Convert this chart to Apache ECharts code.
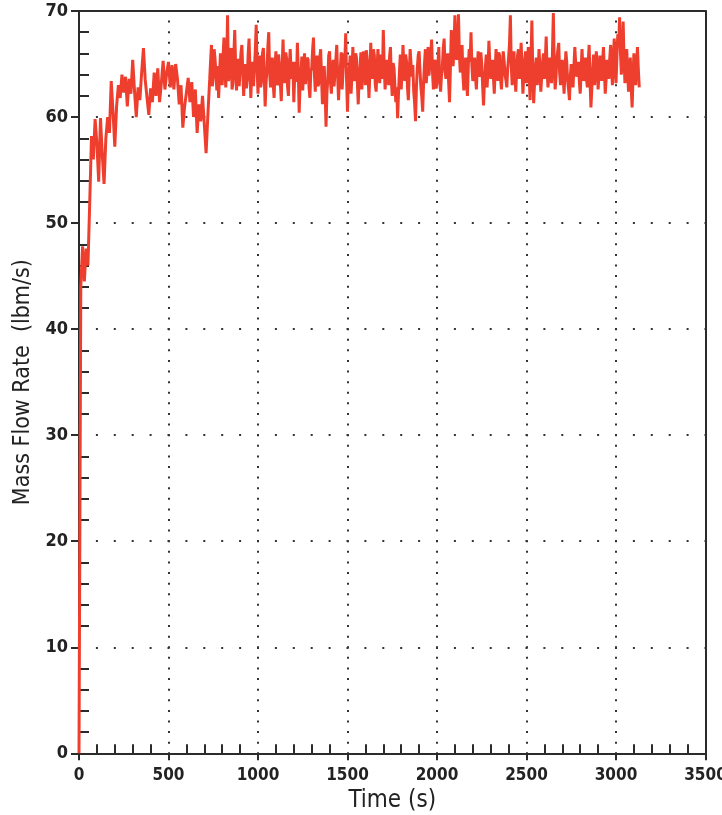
<!DOCTYPE html>
<html>
<head>
<meta charset="utf-8">
<script src="https://cdn.jsdelivr.net/npm/echarts@6/dist/echarts.min.js"></script>
<style>
html,body{margin:0;padding:0;background:#fff;overflow:hidden;width:722px;height:815px;}
#chart{width:722px;height:815px;position:absolute;left:0;top:0;}
</style>
</head>
<body>
<div id="chart"></div>
<script>
// Axis ticks
const xTicks = [0, 500, 1000, 1500, 2000, 2500, 3000, 3500];
const yTicks = [0, 10, 20, 30, 40, 50, 60, 70];
const xTitle = 'Time (s)';
const yTitle = 'Mass Flow Rate  (lbm/s)';

// Start-up: one reading every 10 s, t = 0 ... 720 s (lbm/s)
const startupT0 = 0, startupStep = 10;
const flowStartup = [
  0, 44, 47.8, 44.5, 47.6, 46, 52, 58.2, 56, 59.8,
  57.5, 53.9, 59.9, 56.5, 53.7, 58, 60, 58.5, 63.4, 60.5,
  57.2, 61, 63, 61.8, 64, 62.3, 63.8, 61, 63.6, 62.2,
  65.4, 62.5, 60, 62.8, 61.6, 64.2, 66.5, 63.5, 61.8, 60.2,
  62.7, 61.4, 64.2, 62, 64.6, 61.4, 63.2, 65.3, 62.6, 64.2,
  65.2, 62.8, 64.9, 62.6, 65, 63.6, 61.2, 63, 59, 61,
  62.3, 63.7, 61.4, 63.3, 60, 62.6, 58.5, 61.2, 59.6, 62,
  59.3, 56.6, 60.2
];

// Plateau: one reading every 5 s
const plateauStep = 5;
// t = 730 ... 1500 s
const plateau1T0 = 730;
const flowPlateau1 = [
  63.5, 65.2, 66.8, 62.9, 63.8, 66.4, 65.5, 64.1, 62.5, 64.8, 61.8, 63.9, 66, 64.6, 63, 65.8, 67.5, 64.3, 62.8, 65.1,
  69.6, 63.4, 64, 66.2, 66.5, 62.6, 63.2, 65.7, 68.2, 64.9, 62.5, 64.4, 65.5, 62.9, 63, 66.1, 66.8, 64.2, 62, 63.8,
  65, 62.7, 63.5, 65.9, 67.4, 64.5, 61.8, 64.2, 65.2, 62.9, 63, 66.3, 68.7, 64.6, 62.2, 65.3, 65.8, 62.8, 63.4, 66,
  66.5, 63.9, 61, 63.2, 64.5, 66.6, 68, 64.2, 62.8, 64.9, 65.6, 63.1, 61.8, 64.6, 66.2, 63.4, 63, 65.9, 64.8, 63.2,
  61.5, 64.8, 67.3, 64, 63.2, 66.1, 65.5, 62.9, 62, 64.7, 66.4, 64.1, 63.6, 65.2, 61.4, 63.8, 65.2, 63.3, 67, 64.4,
  60.4, 63.1, 64.2, 65.7, 62.5, 64.6, 66, 63.1, 63, 65.6, 65.4, 62.8, 61.8, 64.3, 64.6, 66.3, 67.5, 64.1, 62.4, 64.9,
  65.8, 62.9, 63.2, 65.5, 66.4, 63.7, 61.2, 63.6, 64.8, 62.4, 59.1, 62.2, 63.6, 65.8, 66.2, 63.3, 62.2, 64.5, 65.4, 62.9,
  63, 65.4, 66.8, 63.9, 61.6, 63.7, 64.6, 66.1, 62.6, 64.2, 66, 65.1, 67.9, 63.4, 60.5
];
// t = 1505 ... 2300 s
const plateau2T0 = 1505;
const flowPlateau2 = [
  63.9, 64.4, 65.8, 62.2, 64.1, 66.6, 64.2, 63.4, 66, 65.6, 63.3, 61.2, 63.7, 64.8, 66.1, 62.6, 64.3, 66.2, 64.4, 63,
  66.3, 65.4, 63.9, 61.8, 64.2, 67, 64.1, 63.6, 66.4, 65.8, 63.1, 62.4, 64.5, 66.4, 64.8, 63.2, 65.9, 64.8, 63.6, 68.2,
  64.9, 62.6, 63.8, 65.4, 64.2, 63, 65.7, 66.6, 63.5, 62, 65.1, 64.6, 62.9, 61.4, 62.8, 59.9, 62.3, 64.2, 65.9, 62.6,
  64.3, 66.8, 64.6, 63.4, 65.9, 65.2, 62.8, 61.6, 64.1, 66.4, 65, 63.8, 64.9, 62.4, 61.3, 59.6, 62.8, 64.6, 65.8, 66.2,
  64.4, 62.8, 61.9, 60.5, 63.2, 65, 66.4, 63.2, 64.4, 66.6, 63.9, 64, 65.9, 67.3, 64.2, 62.6, 64.9, 65.4, 62.7, 63.2,
  64.8, 66.6, 63.6, 62.4, 63.9, 64.8, 66.5, 67.4, 64.3, 63.6, 65.4, 66, 63.3, 61.4, 64.7, 68.2, 66.1, 64.8, 66.4, 69.6,
  65.8, 65.4, 67.3, 69.7, 65.9, 64.2, 65.1, 66.8, 63.9, 62.5, 64.6, 65.6, 63.4, 62, 64.9, 66.4, 65.2, 68, 64.8, 63.4,
  64.2, 65.6, 63.8, 62.6, 64.7, 66.2, 64.5, 63.8, 66.1, 65, 62.9, 61.1, 63.4, 64.6, 65.9, 62.8, 64.6, 67.2, 65.1, 63.6
];
// t = 2305 ... 3130 s
const plateau3T0 = 2305;
const flowPlateau3 = [
  64.2, 65.4, 63.8, 62.2, 64.5, 66.4, 64.9, 63.4, 66.1, 65.8, 63.7, 62.6, 64.4, 66.2, 65.3, 64, 63.5, 62.8, 64.6, 65.6,
  66.9, 69.6, 64.8, 63, 64.6, 66.2, 64.1, 62.4, 64.3, 65.8, 66.4, 63.6, 64.9, 67, 64.6, 62.2, 63.9, 65.4, 66.2, 63.2,
  64.7, 66.6, 63.9, 61.6, 65.2, 69.1, 64.4, 61.3, 63.2, 64.8, 65.6, 63, 64.1, 66.4, 64.5, 62.4, 63.8, 65.2, 66, 63.6,
  65.3, 67.6, 64.4, 62.8, 63.9, 65.6, 64.8, 63.2, 66.1, 69.8, 64.9, 62.6, 63.8, 65.6, 66.3, 67, 64.2, 63, 64.1, 65.4,
  63.8, 62.2, 64.3, 66.2, 65.1, 63.4, 62.6, 61.6, 63.9, 65, 64.2, 62.8, 64.8, 66.6, 65, 63.8, 64.3, 65.2, 63.4, 62.2,
  64.2, 66.4, 64.8, 63.4, 64.1, 65.6, 63.6, 62.8, 65.3, 66.8, 63.4, 60.9, 62.7, 64.6, 65.9, 63, 64.4, 66.2, 64.7, 62.6,
  64.1, 65.8, 64.6, 63.4, 65.2, 66.6, 64.3, 62.2, 63.6, 65.4, 64.7, 63.6, 65.5, 66.8, 64.6, 63, 65.3, 67.4, 64.9, 63.2,
  65.6, 67.8, 66.7, 69.4, 66.1, 64, 65.8, 69, 65.4, 63.2, 64.6, 66.4, 64.1, 62.4, 64.2, 65.6, 62.8, 60.9, 63.7, 66,
  64.3, 63, 65.1, 66.6, 64.4, 62.8
];

function toPoints(t0, step, values) {
  return values.map((v, i) => [t0 + i * step, v]);
}
const seriesData = [].concat(
  toPoints(startupT0, startupStep, flowStartup),
  toPoints(plateau1T0, plateauStep, flowPlateau1),
  toPoints(plateau2T0, plateauStep, flowPlateau2),
  toPoints(plateau3T0, plateauStep, flowPlateau3)
);

const FONT = '"Liberation Sans Narrow","DejaVu Sans Condensed","Liberation Sans",sans-serif';
const AXIS = '#2b2b2b';
const DOT = '#333';

const W = 722, H = 815;
const gridLeft = 79, gridRight = 16.5, gridTop = 11, gridBottom = 61.7;
const gridW = W - gridLeft - gridRight;
const gridH = H - gridTop - gridBottom;
const xMinorPx = gridW / 35;   // 100 s spacing of horizontal dots
const yUnitPx = gridH / 70;    // 1 lbm/s spacing of vertical dots

const xRange = {type: 'value', min: xTicks[0], max: xTicks[xTicks.length - 1], interval: xTicks[1] - xTicks[0]};
const yRange = {type: 'value', min: yTicks[0], max: yTicks[yTicks.length - 1], interval: yTicks[1] - yTicks[0]};
const frameOnly = {
  axisLine: {show: true, onZero: false, lineStyle: {color: AXIS, width: 2}},
  axisTick: {show: false}, axisLabel: {show: false}, splitLine: {show: false}
};

const chart = echarts.init(document.getElementById('chart'), null, {renderer: 'canvas', width: W, height: H});
chart.setOption({
  animation: false,
  backgroundColor: '#fff',
  grid: {
    left: gridLeft, right: gridRight, top: gridTop, bottom: gridBottom,
    containLabel: false, outerBoundsMode: 'none', show: false
  },
  xAxis: [Object.assign({}, xRange, {
    position: 'bottom',
    name: xTitle, nameLocation: 'middle', nameGap: 26,
    nameTextStyle: {fontFamily: FONT, fontSize: 24, color: '#222'},
    axisLine: {show: true, onZero: false, lineStyle: {color: AXIS, width: 2}},
    axisTick: {show: true, inside: false, length: 7, lineStyle: {color: AXIS, width: 2}},
    axisLabel: {fontFamily: FONT, fontSize: 17, fontWeight: 'bold', color: '#222', margin: 14,
      hideOverlap: false, formatter: v => String(v)},
    splitLine: {show: true, lineStyle: {color: DOT, width: 2, type: [2, yUnitPx - 2], dashOffset: 1}}
  }), Object.assign({}, xRange, {
    position: 'bottom',
    axisLine: {show: false, onZero: false},
    axisTick: {show: false, inside: true},
    axisLabel: {show: false},
    splitLine: {show: false},
    minorTick: {show: true, splitNumber: 5, length: 9, lineStyle: {color: AXIS, width: 2}}
  }), Object.assign({}, xRange, {position: 'top'}, frameOnly)],
  yAxis: [Object.assign({}, yRange, {
    position: 'left',
    name: yTitle, nameLocation: 'middle', nameGap: 29,
    nameTextStyle: {fontFamily: FONT, fontSize: 23, color: '#222'},
    axisLine: {show: true, onZero: false, lineStyle: {color: AXIS, width: 2}},
    axisTick: {show: true, inside: false, length: 8, lineStyle: {color: AXIS, width: 2}},
    axisLabel: {fontFamily: FONT, fontSize: 18, fontWeight: 'bold', color: '#222', margin: 11,
      formatter: v => String(v)},
    splitLine: {show: true, lineStyle: {color: DOT, width: 2, type: [2, xMinorPx - 2], dashOffset: 1}}
  }), Object.assign({}, yRange, {
    position: 'left',
    axisLine: {show: false, onZero: false},
    axisTick: {show: false, inside: true},
    axisLabel: {show: false},
    splitLine: {show: false},
    minorTick: {show: true, splitNumber: 5, length: 10, lineStyle: {color: AXIS, width: 2}}
  }), Object.assign({}, yRange, {position: 'right'}, frameOnly)],
  series: [{
    type: 'line',
    xAxisIndex: 0, yAxisIndex: 0,
    data: seriesData,
    showSymbol: false,
    symbol: 'none',
    lineStyle: {color: '#ee3f2e', width: 3},
    z: 3
  }]
});
</script>
</body>
</html>
